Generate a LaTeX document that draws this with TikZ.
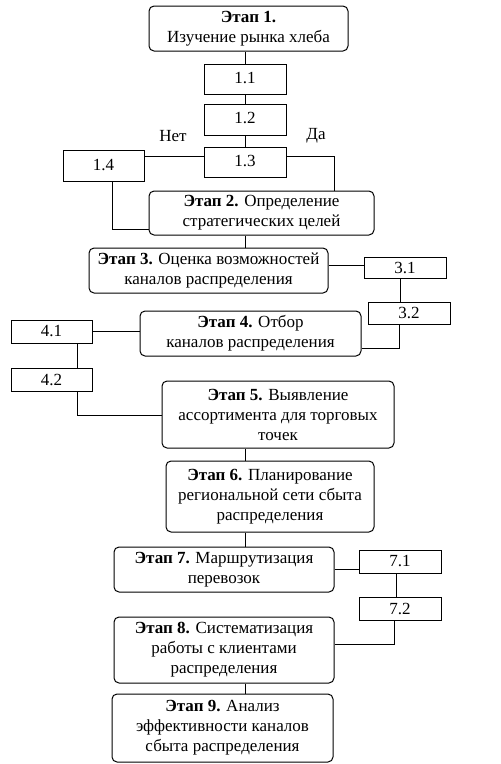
\documentclass[tikz,border=0pt]{standalone}
\usepackage{fontspec}
\setmainfont{Liberation Serif}
\begin{document}
\begin{tikzpicture}[x=1pt,y=-1pt,
  stage/.style={draw, line width=1pt, rounded corners=5pt, inner sep=0pt, align=center,
    font=\fontsize{17}{20}\selectfont},
  num/.style={draw, line width=1pt, inner sep=0pt, minimum width=82pt,
    font=\fontsize{17}{20}\selectfont},
  conn/.style={line width=0.7pt},
  lbl/.style={inner sep=0pt, font=\fontsize{17}{20}\selectfont}]
\useasboundingbox (0,0) rectangle (501,764);
% stages
\node[stage, minimum width=199pt, minimum height=45pt] (s1) at (248.5,28.5) {\textbf{Этап 1.}\\Изучение рынка хлеба};
\node[stage, minimum width=225pt, minimum height=44pt] (s2) at (261.5,213) {\textbf{Этап 2.} Определение\\стратегических целей};
\node[stage, minimum width=239pt, minimum height=45pt] (s3) at (208.5,270.5) {\textbf{Этап 3.} Оценка возможностей\\каналов распределения};
\node[stage, minimum width=221pt, minimum height=45pt] (s4) at (250.5,333.5) {\textbf{Этап 4.} Отбор\\каналов распределения};
\node[stage, minimum width=232pt, minimum height=67pt] (s5) at (278,414.5) {\textbf{Этап 5.} Выявление\\ассортимента для торговых\\точек};
\node[stage, minimum width=208pt, minimum height=71pt] (s6) at (270,496.5) {\textbf{Этап 6.} Планирование\\региональной сети сбыта\\распределения};
\node[stage, minimum width=220pt, minimum height=45pt] (s7) at (224,569.5) {\textbf{Этап 7.} Маршрутизация\\перевозок};
\node[stage, minimum width=220pt, minimum height=66pt] (s8) at (224,650) {\textbf{Этап 8.} Систематизация\\работы с клиентами\\распределения};
\node[stage, minimum width=221pt, minimum height=68pt] (s9) at (222.5,728) {\textbf{Этап 9.} Анализ\\эффективности каналов\\сбыта распределения};
% numbered boxes
\node[num, minimum height=30pt] (n11) at (245,79) {\raisebox{3pt}{1.1}};
\node[num, minimum height=31pt] (n12) at (245,119.5) {\raisebox{3pt}{1.2}};
\node[num, minimum height=30pt] (n13) at (245,162) {\raisebox{3pt}{1.3}};
\node[num, minimum width=81pt, minimum height=31pt] (n14) at (103.5,165.5) {\raisebox{2pt}{1.4}};
\node[num, minimum height=21pt] (n31) at (405,267.5) {3.1};
\node[num, minimum height=22pt] (n32) at (409,313) {3.2};
\node[num, minimum width=81pt, minimum height=23pt] (n41) at (51.5,331.5) {4.1};
\node[num, minimum width=81pt, minimum height=23pt] (n42) at (51.5,379.5) {4.2};
\node[num, minimum height=23pt] (n71) at (400,561.5) {7.1};
\node[num, minimum height=23pt] (n72) at (400,608.5) {7.2};
% labels
\node[lbl] (net) at (173,136) {Нет};
\node[lbl] (da) at (316,136) {Да};
% connectors
\coordinate (c13w) at ([yshift=6pt]n13.west);
\coordinate (c13e) at ([yshift=6pt]n13.east);
\coordinate (c14b) at ([xshift=8.5pt]n14.south);
\coordinate (c2w) at ([yshift=-16pt]s2.west);
\draw[conn] (n11.north) -- (n11.north |- s1.south);
\draw[conn] (n11) -- (n12);
\draw[conn] (n12) -- (n13);
\draw[conn] (c13w) -- (c13w -| n14.east);
\draw[conn] (c13e) -- (c13e -| 334,0) -- (334,0 |- s2.north);
\draw[conn] (c14b) |- (c2w);
\draw[conn] (s2.south -| n11) -- (s3.north -| n11);
\coordinate (c3e) at ([yshift=5.5pt]s3.east);
\draw[conn] (c3e) -- (c3e -| n31.west);
\draw[conn] ([xshift=-5pt]n31.south) -- ([xshift=-5pt]n31.south |- n32.north);
\coordinate (c4e) at ([yshift=-14.5pt]s4.east);
\draw[conn] ([xshift=-10pt]n32.south) |- (c4e);
\coordinate (c4w) at ([yshift=2.5pt]s4.west);
\draw[conn] (c4w) -- (c4w -| n41.east);
\draw[conn] ([xshift=25.5pt]n41.south) -- ([xshift=25.5pt]n42.north);
\coordinate (c5w) at ([yshift=-0.5pt]s5.west);
\draw[conn] ([xshift=25.5pt]n42.south) |- (c5w);
\draw[conn] (s5.south -| n11) -- (s6.north -| n11);
\draw[conn] (s6.south -| n11) -- (s7.north -| n11);
\coordinate (c7e) at ([yshift=0.5pt]s7.east);
\draw[conn] (c7e) -- (c7e -| n71.west);
\draw[conn] ([xshift=-4pt]n71.south) -- ([xshift=-4pt]n72.north);
\coordinate (c8e) at ([yshift=6pt]s8.east);
\draw[conn] ([xshift=-6pt]n72.south) |- (c8e);
\draw[conn] (s8.south -| n11) -- (s9.north -| n11);
\end{tikzpicture}
\end{document}
